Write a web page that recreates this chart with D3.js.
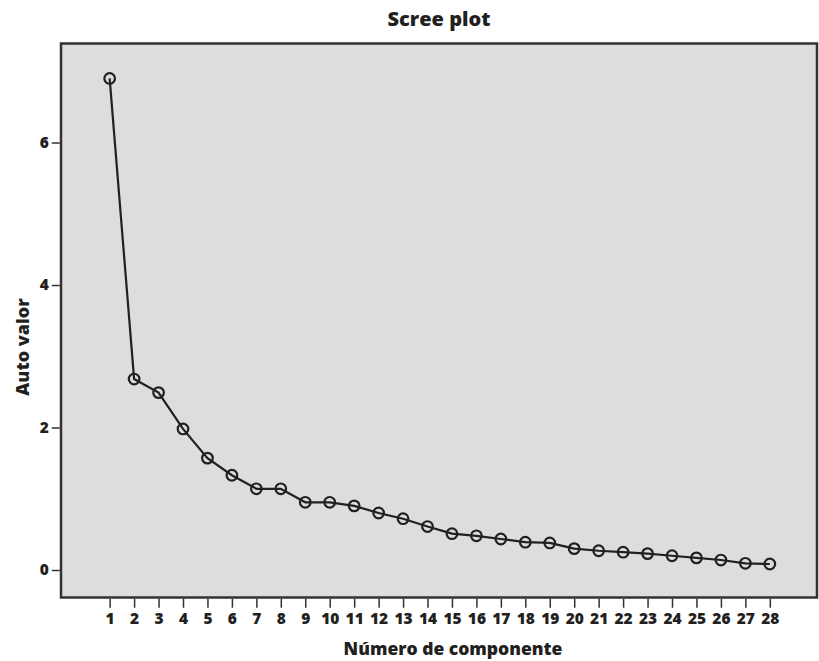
<!DOCTYPE html>
<html>
<head>
<meta charset="utf-8">
<script src="https://cdn.jsdelivr.net/npm/d3@7"></script>
<style>
  html, body { margin: 0; padding: 0; background: #fff; }
  svg { display: block; }
  text { font-family: "Open Sans", "DejaVu Sans", sans-serif; font-weight: 800; fill: #231f20; }
</style>
</head>
<body>
<svg id="chart" width="819" height="661"></svg>
<script>
const components = d3.range(1, 29);
const eigenvalues = [6.90, 2.68, 2.49, 1.98, 1.57, 1.33, 1.14, 1.14, 0.95, 0.95,
                     0.90, 0.80, 0.72, 0.61, 0.51, 0.48, 0.435, 0.39, 0.38, 0.30,
                     0.27, 0.25, 0.23, 0.20, 0.17, 0.14, 0.094, 0.084];
const yTicks = [0, 2, 4, 6];
const title = "Scree plot";
const xLabel = "Número de componente";
const yLabel = "Auto valor";

(function () {
const svg = d3.select("#chart");
const pL = 61, pR = 817, pT = 43.5, pB = 597.5;

const x = d3.scaleLinear().domain([-0.99, 29.93]).range([pL, pR]);
const y = d3.scaleLinear().domain([-0.386, 7.39]).range([pB, pT]);

svg.append("rect")
  .attr("x", pL).attr("y", pT)
  .attr("width", pR - pL).attr("height", pB - pT)
  .attr("fill", "#dcdddf")
  .attr("stroke", "#333132").attr("stroke-width", 2.5);

// Y axis
const yAxis = d3.axisLeft(y).tickValues(yTicks).tickSize(8).tickPadding(3).tickFormat(d3.format("d"));
const gy = svg.append("g").attr("transform", `translate(${pL - 1.25},0)`).call(yAxis);
gy.select(".domain").remove();
gy.selectAll(".tick line").attr("stroke", "#333132").attr("stroke-width", 1.5);
gy.selectAll(".tick text").attr("font-size", 15.5).style("font-family", '"Open Sans", sans-serif').style("font-weight", 800).attr("fill", "#231f20");

// X axis
const xAxis = d3.axisBottom(x).tickValues(components).tickSize(9).tickPadding(5).tickFormat(d3.format("d"));
const gx = svg.append("g").attr("transform", `translate(0,${pB + 1.25})`).call(xAxis);
gx.select(".domain").remove();
gx.selectAll(".tick line").attr("stroke", "#333132").attr("stroke-width", 1.5);
gx.selectAll(".tick text").attr("font-size", 15.5).style("font-family", '"Open Sans", sans-serif').style("font-weight", 800).attr("fill", "#231f20");

// Line
const line = d3.line().x((d, i) => x(components[i])).y(d => y(d));
svg.append("path").datum(eigenvalues)
  .attr("d", line).attr("fill", "none")
  .attr("stroke", "#231f20").attr("stroke-width", 2.2);

svg.append("g").selectAll("circle").data(eigenvalues).join("circle")
  .attr("cx", (d, i) => x(components[i]))
  .attr("cy", d => y(d))
  .attr("r", 5.3)
  .attr("fill", "none")
  .attr("stroke", "#231f20").attr("stroke-width", 2.2);

// Titles
svg.append("text").attr("x", (pL + pR) / 2).attr("y", 26)
  .attr("text-anchor", "middle").attr("font-size", 20).text(title);
svg.append("text").attr("x", 453).attr("y", 655)
  .attr("text-anchor", "middle").attr("font-size", 17.5).text(xLabel);
svg.append("text").attr("transform", `translate(29,347) rotate(-90)`)
  .attr("text-anchor", "middle").attr("font-size", 18).text(yLabel);
})();
</script>
</body>
</html>
